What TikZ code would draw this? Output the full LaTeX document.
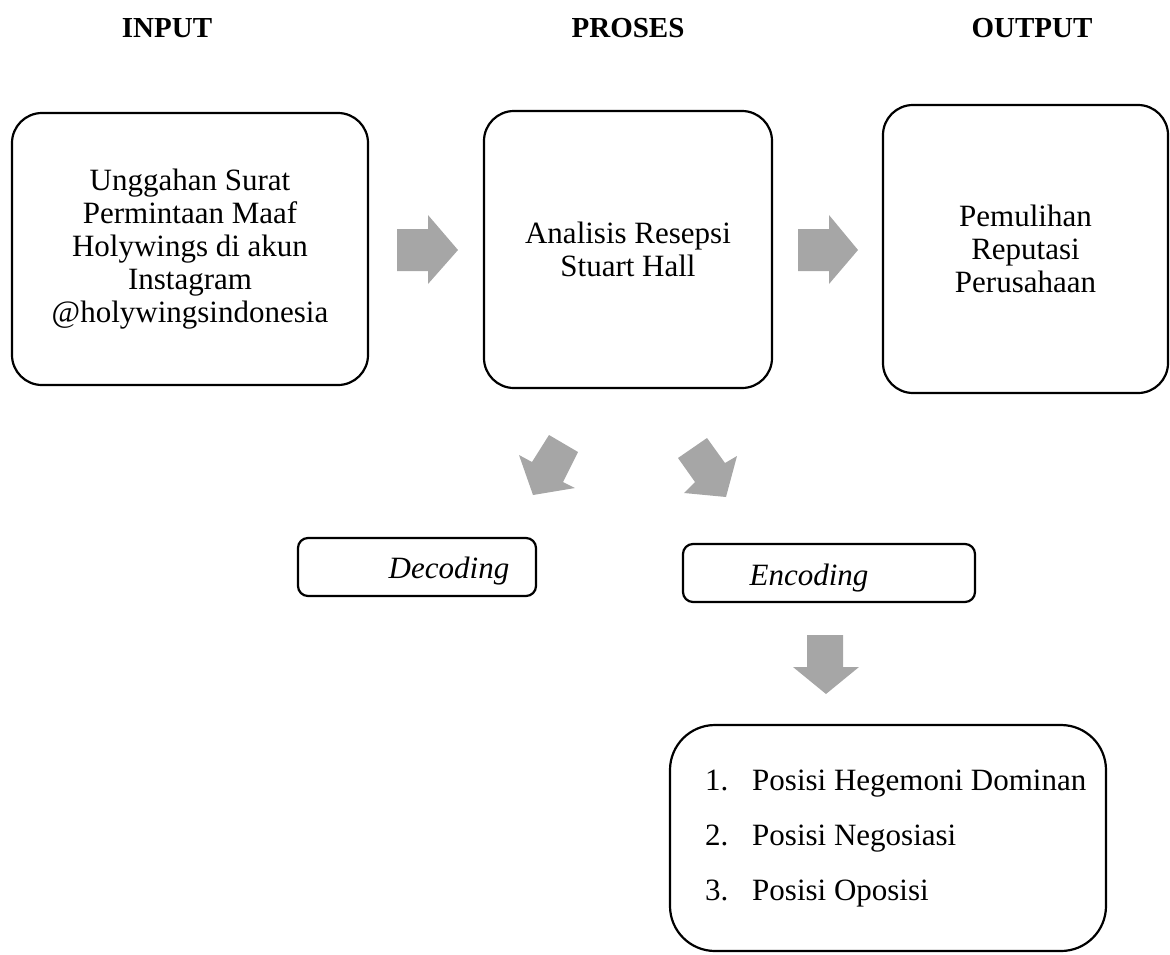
\documentclass[tikz,border=0pt]{standalone}
\usepackage{fontspec}
\setmainfont{Liberation Serif}
\begin{document}
\begin{tikzpicture}[x=1pt,y=-1pt,
  body/.style={font=\fontsize{31}{33}\selectfont},
  head/.style={font=\fontsize{29}{33}\selectfont\bfseries, anchor=base, inner sep=0pt},
  bigbox/.style={draw, line width=2.2pt, rounded corners=30pt, align=center, inner sep=0pt, body},
  smallbox/.style={draw, line width=2.2pt, rounded corners=10pt, inner sep=0pt},
  listbox/.style={draw, line width=2.2pt, rounded corners=45pt, inner sep=0pt},
  lbl/.style={anchor=base, inner sep=0pt, body},
  item/.style={anchor=base west, inner sep=0pt, body},
  blockarrow/.style={fill=arrowgray, draw=none}
]
\definecolor{arrowgray}{HTML}{A6A6A6}
\useasboundingbox (0,0) rectangle (1170,954);

% headings
\node[head] (hin)  at (167,37)  {INPUT};
\node[head] (hpro) at (628,37)  {PROSES};
\node[head] (hout) at (1032,37) {OUTPUT};

% main boxes
\node[bigbox, minimum width=356pt, minimum height=272pt] (input) at (190,249)
  {Unggahan Surat\\Permintaan Maaf\\Holywings di akun\\Instagram\\@holywingsindonesia};
\node[bigbox, minimum width=288pt, minimum height=277pt] (proses) at (628,249.5)
  {Analisis Resepsi\\Stuart Hall};
\node[bigbox, minimum width=285pt, minimum height=288pt] (output) at (1025.5,249)
  {Pemulihan\\Reputasi\\Perusahaan};

% decoding / encoding boxes
\node[smallbox, minimum width=238pt, minimum height=58pt] (decbox) at (417,567) {};
\node[lbl] (dec) at (449,578) {\itshape Decoding};
\node[smallbox, minimum width=292pt, minimum height=58pt] (encbox) at (829,573) {};
\node[lbl] (enc) at (809,585) {\itshape Encoding};

% list box
\node[listbox, minimum width=436pt, minimum height=226pt] (posbox) at (888,838) {};
\node[item] (n1) at (705,790) {1.};
\node[item] (p1) at (752,790) {Posisi Hegemoni Dominan};
\node[item] (n2) at (705,845) {2.};
\node[item] (p2) at (752,845) {Posisi Negosiasi};
\node[item] (n3) at (705,900) {3.};
\node[item] (p3) at (752,900) {Posisi Oposisi};

% block arrows
\fill[blockarrow] (397,229) -- (428,229) -- (428,215) -- (458,250) -- (428,284) -- (428,271) -- (397,271) -- cycle;
\fill[blockarrow] (798,229) -- (829,229) -- (829,215) -- (858,250) -- (829,284) -- (829,271) -- (798,271) -- cycle;
\fill[blockarrow] (807,635) -- (843,635) -- (843,667) -- (859,667) -- (826,694) -- (793,667) -- (807,667) -- cycle;
\fill[blockarrow] (549,435) -- (578,452) -- (563,482) -- (575,488) -- (533,495) -- (519,455) -- (532,462) -- cycle;
\fill[blockarrow] (707,438) -- (678,458) -- (695,482) -- (684,493) -- (726,497) -- (737,456) -- (725,463) -- cycle;
\end{tikzpicture}
\end{document}
